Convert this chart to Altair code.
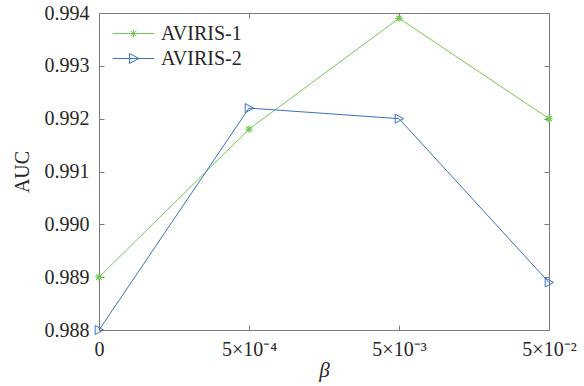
import altair as alt
import pandas as pd

beta_labels = ["0", "5×10⁻⁴", "5×10⁻³", "5×10⁻²"]
auc_1 = [0.9890, 0.9918, 0.9939, 0.9920]
auc_2 = [0.9880, 0.9922, 0.9920, 0.9889]
series_names = ["AVIRIS-1", "AVIRIS-2"]
y_ticks = [0.988, 0.989, 0.990, 0.991, 0.992, 0.993, 0.994]

GREEN = "#74c853"
BLUE = "#3a6fc2"
FRAME = "#7a7a7a"
TXT = "#262626"
FONT = "'Liberation Serif', 'Times New Roman', serif"

STAR = "M-1,0L1,0M0,-1L0,1M-0.72,-0.72L0.72,0.72M-0.72,0.72L0.72,-0.72"
TRI = "M-0.85,-1L1,0L-0.85,1Z"
LEG_STAR = "M-1.6,0L1.6,0M-0.3,0L0.3,0M0,-0.3L0,0.3M-0.22,-0.22L0.22,0.22M-0.22,0.22L0.22,-0.22"
LEG_TRI = "M-1.6,0L1.6,0M-0.3,-0.38L0.42,0L-0.3,0.38Z"

df1 = pd.DataFrame({"beta": beta_labels, "auc": auc_1, "series": series_names[0]})
df2 = pd.DataFrame({"beta": beta_labels, "auc": auc_2, "series": series_names[1]})
df_all = pd.concat([df1, df2], ignore_index=True)

W, H = 450, 317

x_enc = alt.X(
    "beta:O",
    sort=beta_labels,
    scale=alt.Scale(type="point", padding=0, domain=beta_labels),
    axis=alt.Axis(
        title="β", titleFontStyle="italic", titleFont=FONT, titleFontSize=21,
        titleFontWeight="normal", titleColor=TXT, titlePadding=0,
        labelFont=FONT, labelFontSize=20, labelColor=TXT, labelAngle=0,
        labelPadding=9, tickSize=5, offset=-5, domain=False, grid=False,
        tickColor=FRAME, labelBaseline="top",
    ),
)
y_enc = alt.Y(
    "auc:Q",
    scale=alt.Scale(domain=[0.988, 0.994], nice=False, zero=False),
    axis=alt.Axis(
        title="AUC", titleFont=FONT, titleFontSize=20, titleFontWeight="normal",
        titleColor=TXT, titlePadding=12,
        labelFont=FONT, labelFontSize=20, labelColor=TXT, labelPadding=10,
        values=y_ticks, format=".3f", tickSize=5, offset=-5, domain=False,
        grid=False, tickColor=FRAME,
    ),
)

line1 = alt.Chart(df1).mark_line(color=GREEN, strokeWidth=1).encode(x=x_enc, y=y_enc)
pts1 = alt.Chart(df1).mark_point(shape=STAR, color=GREEN, filled=False, size=56, strokeWidth=1.2, opacity=1).encode(x=x_enc, y=y_enc)
line2 = alt.Chart(df2).mark_line(color=BLUE, strokeWidth=1).encode(x=x_enc, y=y_enc)
pts2 = alt.Chart(df2).mark_point(shape=TRI, color=BLUE, filled=False, size=81, strokeWidth=1, opacity=1).encode(x=x_enc, y=y_enc)

leg = alt.Legend(
    title=None, orient="none", legendX=21, legendY=7,
    labelFont=FONT, labelFontSize=20, labelColor=TXT, labelOffset=14,
    symbolSize=676, symbolStrokeWidth=1, padding=0, rowPadding=1,
)

legend_layer = alt.Chart(df_all).transform_filter("false").mark_point(
    filled=False, strokeWidth=1, opacity=1
).encode(
    x=x_enc,
    y=y_enc,
    color=alt.Color("series:N", scale=alt.Scale(domain=series_names, range=[GREEN, BLUE]), legend=leg),
    shape=alt.Shape("series:N", scale=alt.Scale(domain=series_names, range=[LEG_STAR, LEG_TRI]), legend=leg),
)

main = alt.layer(line1, line2, pts1, pts2, legend_layer)

mirror = alt.Chart(df_all).transform_filter("false").mark_point(opacity=0).encode(
    x=alt.X(
        "beta:O",
        sort=beta_labels,
        scale=alt.Scale(type="point", padding=0, domain=beta_labels),
        axis=alt.Axis(orient="top", title=None, labels=False, tickSize=5, offset=-5,
                      domain=False, grid=False, tickColor=FRAME),
    ),
    y=alt.Y(
        "auc:Q",
        scale=alt.Scale(domain=[0.988, 0.994], nice=False, zero=False),
        axis=alt.Axis(orient="right", title=None, labels=False, values=y_ticks,
                      tickSize=5, offset=-5, domain=False, grid=False, tickColor=FRAME),
    ),
)

chart = alt.layer(main, mirror).resolve_scale(
    x="independent", y="independent"
).properties(
    width=W, height=H,
    autosize=alt.AutoSizeParams(type="none"),
    padding={"left": 99, "top": 13, "right": 35, "bottom": 56},
    background="white",
).configure(
    font=FONT
).configure_view(
    stroke=FRAME, strokeWidth=1
)

chart.save("out.html", embed_options={"renderer": "svg", "actions": False})
